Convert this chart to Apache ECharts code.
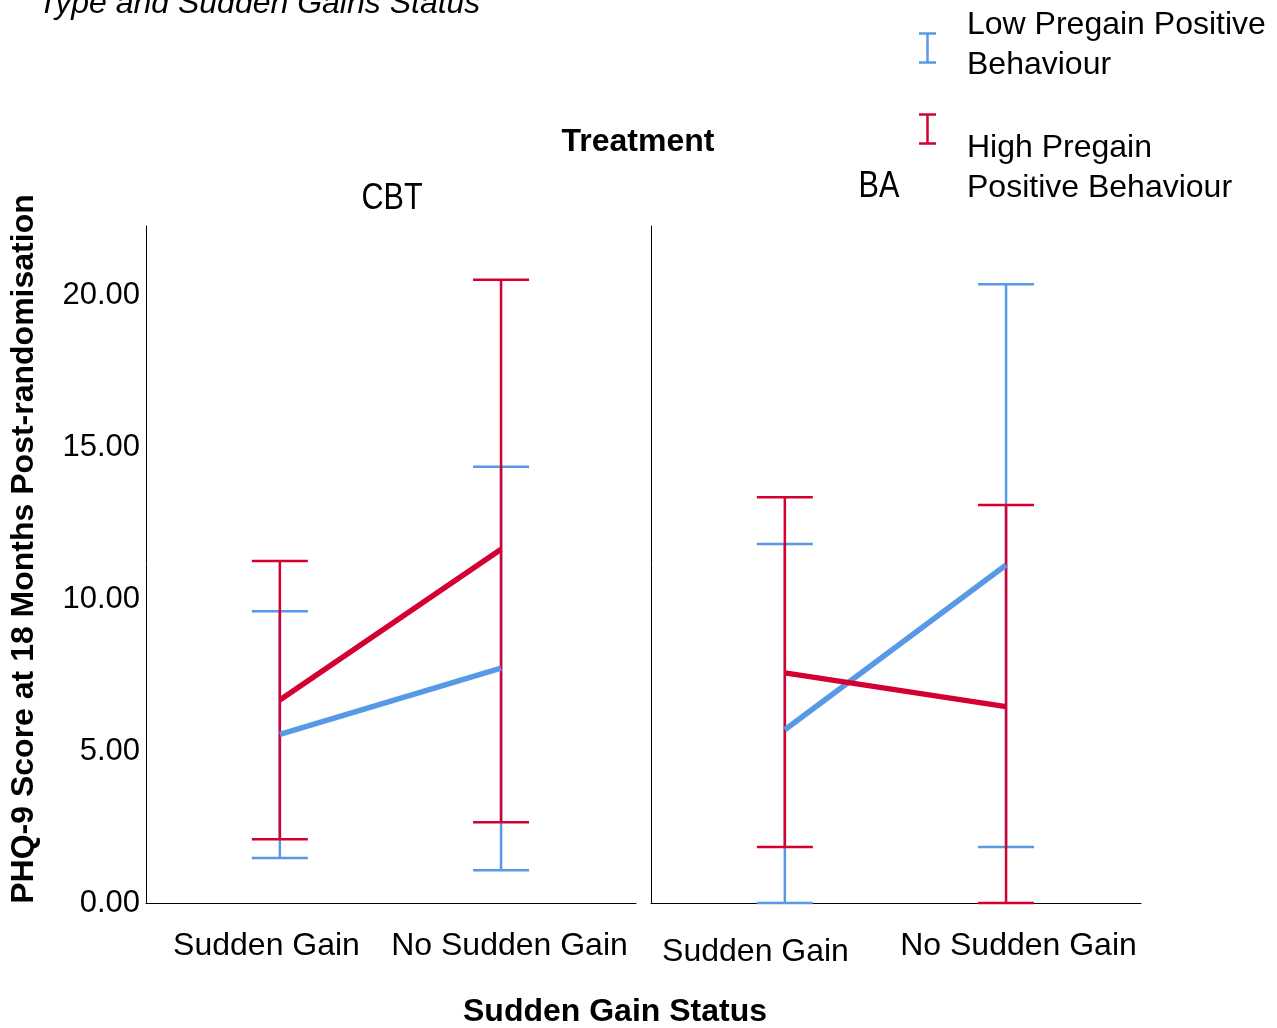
<!DOCTYPE html>
<html><head><meta charset="utf-8">
<script src="https://cdn.jsdelivr.net/npm/echarts@6/dist/echarts.min.js"></script>
<style>html,body{margin:0;padding:0;background:#fff}#chart{width:1277px;height:1028px}</style>
</head><body><div id="chart"></div>
<script>
// ---- data ----
const categories = ['Sudden Gain', 'No Sudden Gain'];
const treatments = ['CBT', 'BA'];
const groups = ['Low Pregain Positive Behaviour', 'High Pregain Positive Behaviour'];
const yTicks = [0, 5, 10, 15, 20];
const yMax = 22.27;

const cbtLowMean  = [5.55, 7.73];
const cbtLowLower = [1.48, 1.08];
const cbtLowUpper = [9.60, 14.35];
const cbtHighMean  = [6.68, 11.64];
const cbtHighLower = [2.10, 2.66];
const cbtHighUpper = [11.25, 20.50];

const baLowMean  = [5.70, 11.12];
const baLowLower = [0.00, 1.84];
const baLowUpper = [11.81, 20.35];
const baHighMean  = [7.57, 6.46];
const baHighLower = [1.84, 0.00];
const baHighUpper = [13.35, 13.09];

// ---- styles ----
const BLUE = '#5899e5';
const RED = '#d50032';
const FONT = '"Liberation Sans", Arial, sans-serif';

function errRender(color) {
  return function (params, api) {
    const x = api.value(0), lo = api.value(1), hi = api.value(2);
    const pLo = api.coord([x, lo]), pHi = api.coord([x, hi]);
    const hw = 28;
    const style = { stroke: color, lineWidth: 2.5 };
    return { type: 'group', children: [
      { type: 'line', shape: { x1: pLo[0], y1: pLo[1], x2: pHi[0], y2: pHi[1] }, style: style },
      { type: 'line', shape: { x1: pLo[0] - hw, y1: pLo[1], x2: pLo[0] + hw, y2: pLo[1] }, style: style },
      { type: 'line', shape: { x1: pHi[0] - hw, y1: pHi[1], x2: pHi[0] + hw, y2: pHi[1] }, style: style }
    ]};
  };
}
function errData(lower, upper) { return categories.map((c, i) => [i, lower[i], upper[i]]); }
function meanData(mean) { return categories.map((c, i) => [i, mean[i]]); }

const panels = [
  { low: [cbtLowMean, cbtLowLower, cbtLowUpper], high: [cbtHighMean, cbtHighLower, cbtHighUpper] },
  { low: [baLowMean, baLowLower, baLowUpper], high: [baHighMean, baHighLower, baHighUpper] }
];

const grids = [
  { left: 146, top: 226, width: 490, height: 677 },
  { left: 651, top: 226, width: 490, height: 677 }
];

const xAxes = [], yAxes = [], series = [];
panels.forEach((p, g) => {
  xAxes.push({
    type: 'category', gridIndex: g, data: g === 1
      ? [{ value: categories[0], textStyle: { padding: [6, 36, 0, 0] } }, categories[1]]
      : [{ value: categories[0], textStyle: { padding: [0, 4, 0, 0] } },
         { value: categories[1], textStyle: { padding: [0, 8, 0, 0] } }],
    boundaryGap: true,
    axisLine: { show: true, onZero: false, lineStyle: { color: '#000', width: 1 } },
    axisTick: { show: false },
    axisLabel: { fontSize: 32, fontFamily: FONT, color: '#000', margin: 27, interval: 0 },
    splitLine: { show: false }
  });
  xAxes.push({
    type: 'value', gridIndex: g, show: false, min: -0.605, max: 1.61,
    splitLine: { show: false }
  });
  yAxes.push({
    type: 'value', gridIndex: g, min: 0, max: yMax, interval: 5,
    axisLine: { show: true, onZero: false, lineStyle: { color: '#000', width: 1 } },
    axisTick: { show: false },
    splitLine: { show: false },
    axisLabel: {
      show: g === 0, fontSize: 31, fontFamily: FONT, color: '#000', margin: 6,
      formatter: v => yTicks.indexOf(v) >= 0 ? v.toFixed(2) : ''
    }
  });
  const xi = g * 2 + 1;
  series.push({ type: 'custom', name: groups[0], xAxisIndex: xi, yAxisIndex: g, clip: false, z: 3,
    renderItem: errRender(BLUE), data: errData(p.low[1], p.low[2]) });
  series.push({ type: 'custom', name: groups[1], xAxisIndex: xi, yAxisIndex: g, clip: false, z: 4,
    renderItem: errRender(RED), data: errData(p.high[1], p.high[2]) });
  series.push({ type: 'line', name: groups[0], xAxisIndex: xi, yAxisIndex: g, z: 5,
    showSymbol: false, symbol: 'none', lineStyle: { color: BLUE, width: 5.5 }, itemStyle: { color: BLUE },
    data: meanData(p.low[0]) });
  series.push({ type: 'line', name: groups[1], xAxisIndex: xi, yAxisIndex: g, z: 6,
    showSymbol: false, symbol: 'none', lineStyle: { color: RED, width: 5.5 }, itemStyle: { color: RED },
    data: meanData(p.high[0]) });
});

function txt(text, x, y, font, opts) {
  return Object.assign({ type: 'text', x: x, y: y, silent: true,
    style: { text: text, font: font, fill: '#000', align: 'left', verticalAlign: 'middle' } }, opts || {});
}
function ctxt(text, x, y, font, opts) {
  return Object.assign({ type: 'text', x: x, y: y, silent: true,
    style: { text: text, font: font, fill: '#000', align: 'center', verticalAlign: 'middle' } }, opts || {});
}
function icon(x, y, color) {
  const hw = 8.5, hh = 14.5, st = { stroke: color, lineWidth: 2.5 };
  return { type: 'group', x: x, y: y, silent: true, children: [
    { type: 'line', shape: { x1: 0, y1: -hh, x2: 0, y2: hh }, style: st },
    { type: 'line', shape: { x1: -hw, y1: -hh, x2: hw, y2: -hh }, style: st },
    { type: 'line', shape: { x1: -hw, y1: hh, x2: hw, y2: hh }, style: st }
  ]};
}

const graphic = [
  txt('Type and Sudden Gains Status', 38, 4, 'italic 32px ' + FONT),
  icon(927.5, 48, BLUE),
  icon(927.5, 129, RED),
  txt('Low Pregain Positive', 967, 25, '32px ' + FONT),
  txt('Behaviour', 967, 65, '32px ' + FONT),
  txt('High Pregain', 967, 148, '32px ' + FONT),
  txt('Positive Behaviour', 967, 188, '32px ' + FONT),
  ctxt('Treatment', 638, 142, 'bold 32px ' + FONT),
  ctxt(treatments[0], 392, 199, '36px ' + FONT, { scaleX: 0.85 }),
  ctxt(treatments[1], 879, 187, '36px ' + FONT, { scaleX: 0.85 }),
  ctxt('Sudden Gain Status', 615, 1012, 'bold 32px ' + FONT),
  ctxt('PHQ-9 Score at 18 Months Post-randomisation', 24, 549, 'bold 32px ' + FONT, { rotation: Math.PI / 2 })
];

const chart = echarts.init(document.getElementById('chart'), null, { renderer: 'canvas' });
chart.setOption({
  backgroundColor: '#fff',
  animation: false,
  grid: grids,
  xAxis: xAxes,
  yAxis: yAxes,
  series: series,
  graphic: graphic
});
</script>
</body></html>
